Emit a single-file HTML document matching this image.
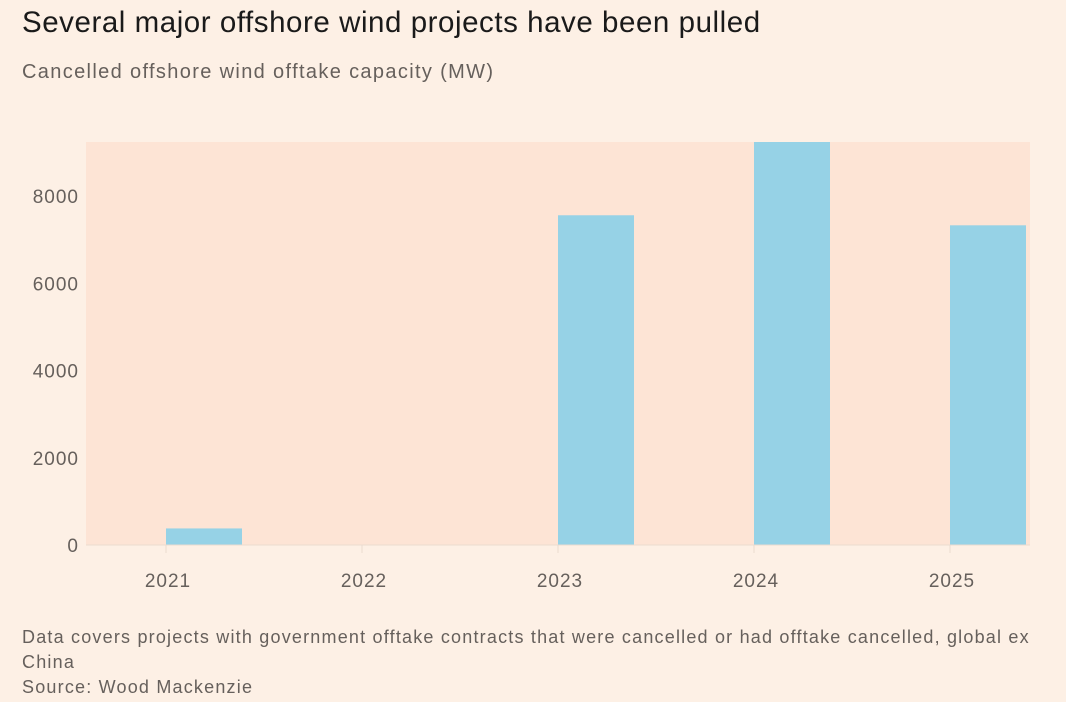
<!DOCTYPE html>
<html><head><meta charset="utf-8">
<style>
body{margin:0;width:1066px;height:702px;background:#fdf0e5;font-family:"Liberation Sans",sans-serif;overflow:hidden;position:relative}
.t{position:absolute;left:22px;top:6px;font-size:29.5px;color:#1a1a1a;letter-spacing:0.55px}
.s{position:absolute;left:22px;top:61px;font-size:20px;color:#66605c;letter-spacing:1.35px}
.n{position:absolute;left:22px;top:625px;font-size:18px;color:#66605c;line-height:25px;width:1044px;letter-spacing:1.2px;white-space:nowrap}
</style></head><body>
<div class="t">Several major offshore wind projects have been pulled</div>
<div class="s">Cancelled offshore wind offtake capacity (MW)</div>
<svg id="c" width="1066" height="702" style="position:absolute;left:0;top:0"></svg>
<div class="n">Data covers projects with government offtake contracts that were cancelled or had offtake cancelled, global ex<br>China<br>Source: Wood Mackenzie</div>
<script>
const categories=["2021","2022","2023","2024","2025"];
const values=[380,0,7560,9300,7330];
const yTicks=[0,2000,4000,6000,8000];
const NS="http://www.w3.org/2000/svg";
const svg=document.getElementById('c');
const px0=86,px1=1030,py0=142,py1=545,yMax=9240;
function y(v){return py1-(Math.min(v,yMax)/yMax)*(py1-py0);}
function x(i){return 166+i*196;}
function mk(t,a){const e=document.createElementNS(NS,t);for(const k in a)e.setAttribute(k,a[k]);svg.appendChild(e);return e;}
let bg=mk('rect',{x:px0,y:py0,width:px1-px0,height:py1-py0,fill:'#fde4d5'});


yTicks.forEach(v=>{
 const t=mk('text',{x:79,y:y(v)+7,'text-anchor':'end','font-size':19,'letter-spacing':1,fill:'#66605c','font-family':'Liberation Sans, sans-serif'});
 t.textContent=v;
 
 
});
categories.forEach((c,i)=>{
 const tk=mk('line',{x1:x(i),x2:x(i),y1:py1,y2:py1+8,stroke:'#eadbd0'});
 
 
 const t=mk('text',{x:x(i)+2,y:py1+42,'text-anchor':'middle','font-size':19,'letter-spacing':1,fill:'#66605c','font-family':'Liberation Sans, sans-serif'});
 t.textContent=c;
 
 
 if(values[i]>0){
  const b=mk('rect',{x:x(i),y:y(values[i]),width:76,height:py1-y(values[i]),fill:'#96d2e6'});
  
  
 }
});
const ax=mk('line',{x1:px0,x2:px1,y1:py1,y2:py1,stroke:'#eadbd0'});


</script>
</body></html>
